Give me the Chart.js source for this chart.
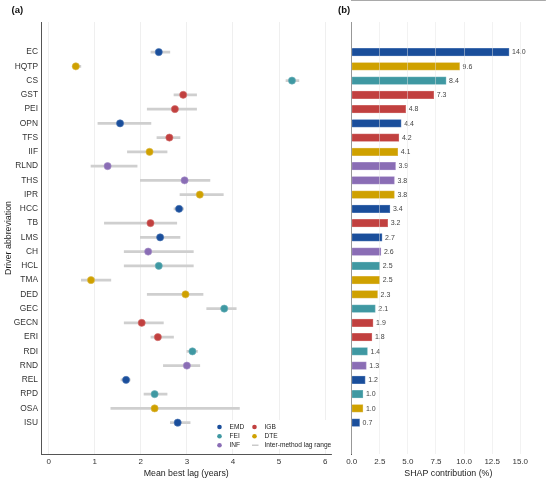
<!DOCTYPE html>
<html>
<head>
<meta charset="utf-8">
<script src="https://cdn.jsdelivr.net/npm/chart.js@4.4.1/dist/chart.umd.min.js"></script>
<style>
  html, body { margin: 0; padding: 0; background: #fff; overflow: hidden; }
  #wrap { position: relative; width: 550px; height: 481px; }
  #lagBox { position: absolute; left: 0; top: 0; width: 336px; height: 481px; }
  #shapBox { position: absolute; left: 336px; top: 0; width: 214px; height: 481px; }
</style>
</head>
<body>
<div id="wrap">
  <div id="lagBox"><canvas id="lagChart"></canvas></div>
  <div id="shapBox"><canvas id="shapChart"></canvas></div>
</div>
<script>
// drivers, top to bottom
const drivers = ['EC', 'HQTP', 'CS', 'GST', 'PEI', 'OPN', 'TFS', 'IIF', 'RLND', 'THS', 'IPR', 'HCC', 'TB',
  'LMS', 'CH', 'HCL', 'TMA', 'DED', 'GEC', 'GECN', 'ERI', 'RDI', 'RND', 'REL', 'RPD', 'OSA', 'ISU'];
const methods = ['EMD', 'DTE', 'FEI', 'IGB', 'IGB', 'EMD', 'IGB', 'DTE', 'INF', 'INF', 'DTE', 'EMD', 'IGB',
  'EMD', 'INF', 'FEI', 'DTE', 'DTE', 'FEI', 'IGB', 'IGB', 'FEI', 'INF', 'EMD', 'FEI', 'DTE', 'EMD'];

// panel (a): mean best lag and inter-method range (years)
const meanLag = [2.39, 0.59, 5.28, 2.92, 2.74, 1.55, 2.62, 2.19, 1.28, 2.95, 3.28, 2.83, 2.21,
  2.42, 2.16, 2.39, 0.92, 2.97, 3.81, 2.02, 2.37, 3.12, 3.00, 1.68, 2.30, 2.30, 2.80];
const lagLow = [2.22, 0.52, 5.15, 2.72, 2.14, 1.07, 2.35, 1.71, 0.92, 1.99, 2.85, 2.72, 1.21,
  1.99, 1.64, 1.64, 0.71, 2.14, 3.43, 1.64, 2.22, 3.00, 2.49, 1.57, 2.07, 1.35, 2.64];
const lagHigh = [2.63, 0.70, 5.43, 3.21, 3.21, 2.22, 2.85, 2.57, 1.92, 3.50, 3.79, 2.93, 2.78,
  2.85, 3.14, 3.14, 1.35, 3.35, 4.07, 2.49, 2.71, 3.23, 3.28, 1.77, 2.57, 4.14, 3.07];

// panel (b): SHAP contribution (%)
const shapValues = [14.0, 9.6, 8.4, 7.3, 4.8, 4.4, 4.2, 4.1, 3.9, 3.8, 3.8, 3.4, 3.2,
  2.7, 2.6, 2.5, 2.5, 2.3, 2.1, 1.9, 1.8, 1.4, 1.3, 1.2, 1.0, 1.0, 0.7];

const lagTicks = [0, 1, 2, 3, 4, 5, 6];
const shapTicks = [0, 2.5, 5, 7.5, 10, 12.5, 15];

const methodColors = {
  EMD: '#1a4e9b',
  FEI: '#3f98a2',
  INF: '#8a6db5',
  IGB: '#c1403f',
  DTE: '#cfa100'
};
const methodEdges = {
  EMD: '#4f78b5',
  FEI: '#6db2ba',
  INF: '#a58fc8',
  IGB: '#d16e6d',
  DTE: '#dcb94a'
};

const FONT = "'Liberation Sans', Arial, sans-serif";
const rowIdx = drivers.map((d, i) => i);

// small panel tag "(a)" / "(b)"
const panelTag = {
  id: 'panelTag',
  afterDraw(chart, args, opts) {
    const ctx = chart.ctx;
    ctx.save();
    ctx.font = 'bold 9.5px ' + FONT;
    ctx.fillStyle = '#111';
    ctx.textBaseline = 'middle';
    ctx.fillText(opts.text, opts.x, opts.y);
    ctx.restore();
  }
};

// legend box in the lower right of panel (a)
const lagLegend = {
  id: 'lagLegend',
  afterDatasetsDraw(chart) {
    const ctx = chart.ctx;
    const entries = [
      { label: 'EMD', col: 0, row: 0 },
      { label: 'FEI', col: 0, row: 1 },
      { label: 'INF', col: 0, row: 2 },
      { label: 'IGB', col: 1, row: 0 },
      { label: 'DTE', col: 1, row: 1 },
      { label: 'Inter-method lag range', col: 1, row: 2, line: true }
    ];
    const colX = [219.5, 254.5];
    const rowY = [427, 436.2, 445.2];
    ctx.save();
    ctx.fillStyle = '#fff';
    ctx.fillRect(211, 420, 119, 29);
    ctx.font = '6.6px ' + FONT;
    ctx.textBaseline = 'middle';
    entries.forEach(e => {
      const x = colX[e.col], y = rowY[e.row];
      if (e.line) {
        ctx.strokeStyle = '#bdbdbd';
        ctx.lineWidth = 1.2;
        ctx.beginPath();
        ctx.moveTo(x - 2.5, y);
        ctx.lineTo(x + 4, y);
        ctx.stroke();
      } else {
        ctx.fillStyle = methodColors[e.label];
        ctx.beginPath();
        ctx.arc(x, y, 2.3, 0, Math.PI * 2);
        ctx.fill();
      }
      ctx.fillStyle = '#222';
      ctx.fillText(e.label, x + 10, y);
    });
    ctx.restore();
  }
};

// value labels at the end of the bars in panel (b)
const barValues = {
  id: 'barValues',
  afterDatasetsDraw(chart) {
    const ctx = chart.ctx;
    const meta = chart.getDatasetMeta(0);
    ctx.save();
    ctx.font = '7px ' + FONT;
    ctx.fillStyle = '#444';
    ctx.textBaseline = 'middle';
    meta.data.forEach((bar, i) => {
      ctx.fillText(shapValues[i].toFixed(1), bar.x + 3, bar.y + 0.3);
    });
    ctx.restore();
  }
};

const yMin = -1.55, yMax = 27.64;

new Chart(document.getElementById('lagChart'), {
  type: 'scatter',
  data: {
    datasets: [
      {
        type: 'bar',
        indexAxis: 'y',
        data: rowIdx.map(i => ({ y: i, x: [lagLow[i], lagHigh[i]] })),
        backgroundColor: '#cfcfcf',
        borderWidth: 0,
        barThickness: 2,
        order: 2
      },
      {
        type: 'scatter',
        data: rowIdx.map(i => ({ x: meanLag[i], y: i })),
        pointRadius: 3.6,
        pointBackgroundColor: methods.map(m => methodColors[m]),
        pointBorderColor: methods.map(m => methodEdges[m]),
        pointBorderWidth: 0.6,
        order: 1
      }
    ]
  },
  options: {
    responsive: true,
    maintainAspectRatio: false,
    animation: false,
    layout: { padding: { top: 22, right: 2, left: 0, bottom: 0 } },
    plugins: {
      legend: { display: false },
      tooltip: { enabled: false },
      panelTag: { text: '(a)', x: 11.5, y: 10 }
    },
    scales: {
      x: {
        type: 'linear',
        min: -0.165,
        max: 6.135,
        afterBuildTicks: s => { s.ticks = lagTicks.map(v => ({ value: v })); },
        afterFit: s => { s.height = 27; },
        grid: { color: '#ebebeb', lineWidth: 0.8, drawTicks: false },
        border: { color: '#555', width: 1 },
        ticks: { color: '#333', font: { family: FONT, size: 8 }, padding: 2.5 },
        title: {
          display: true,
          text: 'Mean best lag (years)',
          color: '#222',
          font: { family: FONT, size: 8.8 },
          padding: { top: 0, bottom: 2.5 }
        }
      },
      y: {
        type: 'linear',
        reverse: true,
        min: yMin,
        max: yMax,
        afterBuildTicks: s => { s.ticks = rowIdx.map(v => ({ value: v })); },
        afterFit: s => { s.width = 41; },
        grid: { display: false, drawTicks: false },
        border: { color: '#555', width: 1 },
        ticks: {
          color: '#333',
          font: { family: FONT, size: 8.4 },
          padding: 3,
          callback: v => drivers[v]
        },
        title: {
          display: true,
          text: 'Driver abbreviation',
          color: '#222',
          font: { family: FONT, size: 8.8 },
          padding: { top: 3, bottom: 0 }
        }
      }
    }
  },
  plugins: [panelTag, lagLegend]
});

new Chart(document.getElementById('shapChart'), {
  type: 'bar',
  data: {
    datasets: [{
      data: rowIdx.map(i => ({ x: shapValues[i], y: i })),
      backgroundColor: methods.map(m => methodColors[m]),
      borderColor: methods.map(m => methodEdges[m]),
      borderWidth: 0.8,
      barThickness: 7.6
    }]
  },
  options: {
    indexAxis: 'y',
    responsive: true,
    maintainAspectRatio: false,
    animation: false,
    layout: { padding: { top: 22, right: 5, left: 0, bottom: 0 } },
    plugins: {
      legend: { display: false },
      tooltip: { enabled: false },
      panelTag: { text: '(b)', x: 2, y: 10 }
    },
    scales: {
      x: {
        type: 'linear',
        min: 0,
        max: 17.2,
        afterBuildTicks: s => { s.ticks = shapTicks.map(v => ({ value: v })); },
        afterFit: s => { s.height = 27; },
        grid: { color: 'rgba(228,228,228,0.6)', lineWidth: 0.8, drawTicks: false, z: 1 },
        border: { color: '#555', width: 1 },
        ticks: {
          color: '#333',
          font: { family: FONT, size: 8 },
          padding: 2.5,
          callback: v => Number(v).toFixed(1)
        },
        title: {
          display: true,
          text: 'SHAP contribution (%)',
          color: '#222',
          font: { family: FONT, size: 8.8 },
          padding: { top: 0, bottom: 2.5 }
        }
      },
      y: {
        type: 'linear',
        reverse: true,
        min: yMin,
        max: yMax,
        afterBuildTicks: s => { s.ticks = rowIdx.map(v => ({ value: v })); },
        afterFit: s => { s.width = 15.7; },
        grid: { display: false, drawTicks: false },
        border: { color: '#555', width: 1 },
        ticks: { display: false }
      }
    }
  },
  plugins: [panelTag, barValues]
});
</script>
</body>
</html>
